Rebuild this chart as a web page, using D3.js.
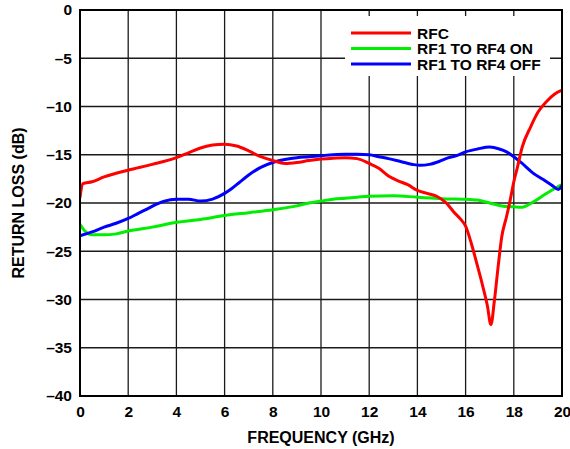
<!DOCTYPE html>
<html>
<head>
<meta charset="utf-8">
<script src="https://cdn.jsdelivr.net/npm/d3@7"></script>
<style>
  html, body { margin: 0; padding: 0; background: #fff; }
  svg { display: block; }
  text { font-family: "Liberation Sans", Arial, Helvetica, sans-serif; font-weight: bold; fill: #000; }
</style>
</head>
<body>
<svg id="chart" width="570" height="449"></svg>
<script>
// Return loss vs frequency, three measured traces
const xTicks = [0, 2, 4, 6, 8, 10, 12, 14, 16, 18, 20];
const yTicks = [0, -5, -10, -15, -20, -25, -30, -35, -40];

const rfcFreq = [0, 0.12, 0.5, 1, 2, 3, 4, 4.5, 5, 5.5, 6, 6.5, 7, 7.5, 8, 8.5, 9, 9.5, 10, 10.5, 11, 11.5,
  12, 12.4, 12.8, 13.2, 13.6, 14, 14.4, 14.8, 15.2, 15.5, 15.8, 16, 16.25, 16.5, 16.7, 16.9, 17.05,
  17.2, 17.35, 17.5, 17.7, 17.85, 18.0, 18.15, 18.35, 18.7, 19.0, 19.35, 19.7, 20];
const rfcLoss = [-19.4, -18.0, -17.8, -17.3, -16.6, -16.0, -15.3, -14.8, -14.3, -14.0, -13.9, -14.1, -14.6, -15.2,
  -15.6, -15.9, -15.8, -15.6, -15.45, -15.35, -15.3, -15.4, -15.9, -16.4, -17.2, -17.7, -18.1, -18.7, -19.0,
  -19.3, -20.0, -20.9, -21.7, -22.4, -24.3, -26.6, -28.5, -30.6, -32.6, -30.0, -26.6, -23.5, -21.4, -19.7,
  -17.8, -16.3, -14.2, -12.1, -10.6, -9.5, -8.7, -8.3];

const onFreq = [0, 0.2, 0.5, 1, 1.5, 2, 3, 4, 5, 6, 7, 8, 9, 9.5, 10, 10.5, 11, 11.5, 12, 13, 14, 15, 16,
  16.5, 17, 17.5, 18, 18.3, 18.8, 19.3, 19.7, 20];
const onLoss = [-22.2, -22.9, -23.3, -23.3, -23.2, -22.9, -22.5, -22.0, -21.7, -21.3, -21.0, -20.7, -20.3,
  -20.0, -19.8, -19.6, -19.5, -19.4, -19.3, -19.25, -19.4, -19.55, -19.6, -19.7, -20.0, -20.3, -20.4,
  -20.45, -19.9, -19.1, -18.5, -18.1];

const offFreq = [0, 0.5, 1, 1.5, 2, 2.4, 2.8, 3.2, 3.5, 4, 4.5, 5, 5.5, 6, 6.3, 6.6, 7, 7.5, 8, 8.5, 9, 9.5,
  10, 10.5, 11, 11.5, 12, 12.4, 12.8, 13.3, 13.8, 14.1, 14.5, 14.9, 15.3, 15.6, 16, 16.5, 17, 17.4, 17.7,
  18, 18.3, 18.8, 19.3, 19.6, 19.85, 20];
const offLoss = [-23.4, -23.0, -22.5, -22.1, -21.6, -21.1, -20.6, -20.1, -19.8, -19.6, -19.6, -19.8, -19.6,
  -19.0, -18.5, -17.9, -17.1, -16.3, -15.8, -15.5, -15.3, -15.2, -15.1, -15.0, -14.95, -14.95, -15.0, -15.2,
  -15.4, -15.7, -16.0, -16.1, -16.0, -15.7, -15.3, -15.1, -14.7, -14.4, -14.2, -14.4, -14.7, -15.2, -15.8,
  -16.9, -17.7, -18.2, -18.6, -18.2];

const seriesNames = ["RFC", "RF1 TO RF4 ON", "RF1 TO RF4 OFF"];
const seriesColors = ["#ff0000", "#00ee00", "#0000ff"];

const svg = d3.select("#chart");
const plot = { left: 80, right: 562, top: 10, bottom: 396 };

const x = d3.scaleLinear().domain([0, 20]).range([plot.left, plot.right]);
const y = d3.scaleLinear().domain([-40, 0]).range([plot.bottom, plot.top]);

// grid
const grid = svg.append("g").attr("stroke", "#1a1a1a").attr("stroke-width", 1.3);
grid.selectAll("line.v").data(xTicks.slice(1, -1)).join("line")
  .attr("x1", d => x(d)).attr("x2", d => x(d))
  .attr("y1", plot.top).attr("y2", plot.bottom);
grid.selectAll("line.h").data(yTicks.slice(1, -1)).join("line")
  .attr("x1", plot.left).attr("x2", plot.right)
  .attr("y1", d => y(d)).attr("y2", d => y(d));

// axes (labels only; frame drawn separately)
const fmt = d => d < 0 ? "\u2013" + Math.abs(d) : String(d);
const xAxis = svg.append("g").attr("transform", `translate(0,${plot.bottom})`)
  .call(d3.axisBottom(x).tickValues(xTicks).tickSize(0).tickPadding(10).tickFormat(fmt));
const yAxis = svg.append("g").attr("transform", `translate(${plot.left},0)`)
  .call(d3.axisLeft(y).tickValues(yTicks).tickSize(0).tickPadding(8).tickFormat(fmt));
[xAxis, yAxis].forEach(a => {
  a.select(".domain").remove();
  a.selectAll("text").style("font-size", "15.5px").style("font-family", "'Liberation Sans', Arial, sans-serif")
    .style("font-weight", "bold").attr("fill", "#000");
});

// traces
const line = d3.line().x(d => x(d[0])).y(d => y(d[1])).curve(d3.curveMonotoneX);
const traces = [
  { f: onFreq, v: onLoss, c: seriesColors[1] },
  { f: offFreq, v: offLoss, c: seriesColors[2] },
  { f: rfcFreq, v: rfcLoss, c: seriesColors[0] }
];
svg.append("defs").append("clipPath").attr("id", "clip")
  .append("rect").attr("x", plot.left).attr("y", plot.top)
  .attr("width", plot.right - plot.left).attr("height", plot.bottom - plot.top);
const tg = svg.append("g").attr("clip-path", "url(#clip)");
traces.forEach(t => {
  tg.append("path").datum(d3.zip(t.f, t.v))
    .attr("fill", "none").attr("stroke", t.c).attr("stroke-width", 3)
    .attr("stroke-linejoin", "round").attr("stroke-linecap", "round")
    .attr("d", line);
});

// legend
const lg = svg.append("g");
lg.append("rect").attr("x", 345).attr("y", 16).attr("width", 205).attr("height", 60).attr("fill", "#fff");
seriesNames.forEach((n, i) => {
  const yy = 33 + i * 15.5;
  lg.append("line").attr("x1", 351).attr("x2", 411).attr("y1", yy).attr("y2", yy)
    .attr("stroke", seriesColors[i]).attr("stroke-width", 3);
  lg.append("text").attr("x", 417).attr("y", yy + 5.5).style("font-size", "15.5px").text(n);
});

// frame
svg.append("rect").attr("x", plot.left).attr("y", plot.top)
  .attr("width", plot.right - plot.left).attr("height", plot.bottom - plot.top)
  .attr("fill", "none").attr("stroke", "#000").attr("stroke-width", 2);

// axis titles
svg.append("text").attr("x", (plot.left + plot.right) / 2).attr("y", 443)
  .attr("text-anchor", "middle").style("font-size", "16px").text("FREQUENCY (GHz)");
svg.append("text").attr("transform", `translate(24,${(plot.top + plot.bottom) / 2}) rotate(-90)`)
  .attr("text-anchor", "middle").style("font-size", "16px").text("RETURN LOSS (dB)");
</script>
</body>
</html>
